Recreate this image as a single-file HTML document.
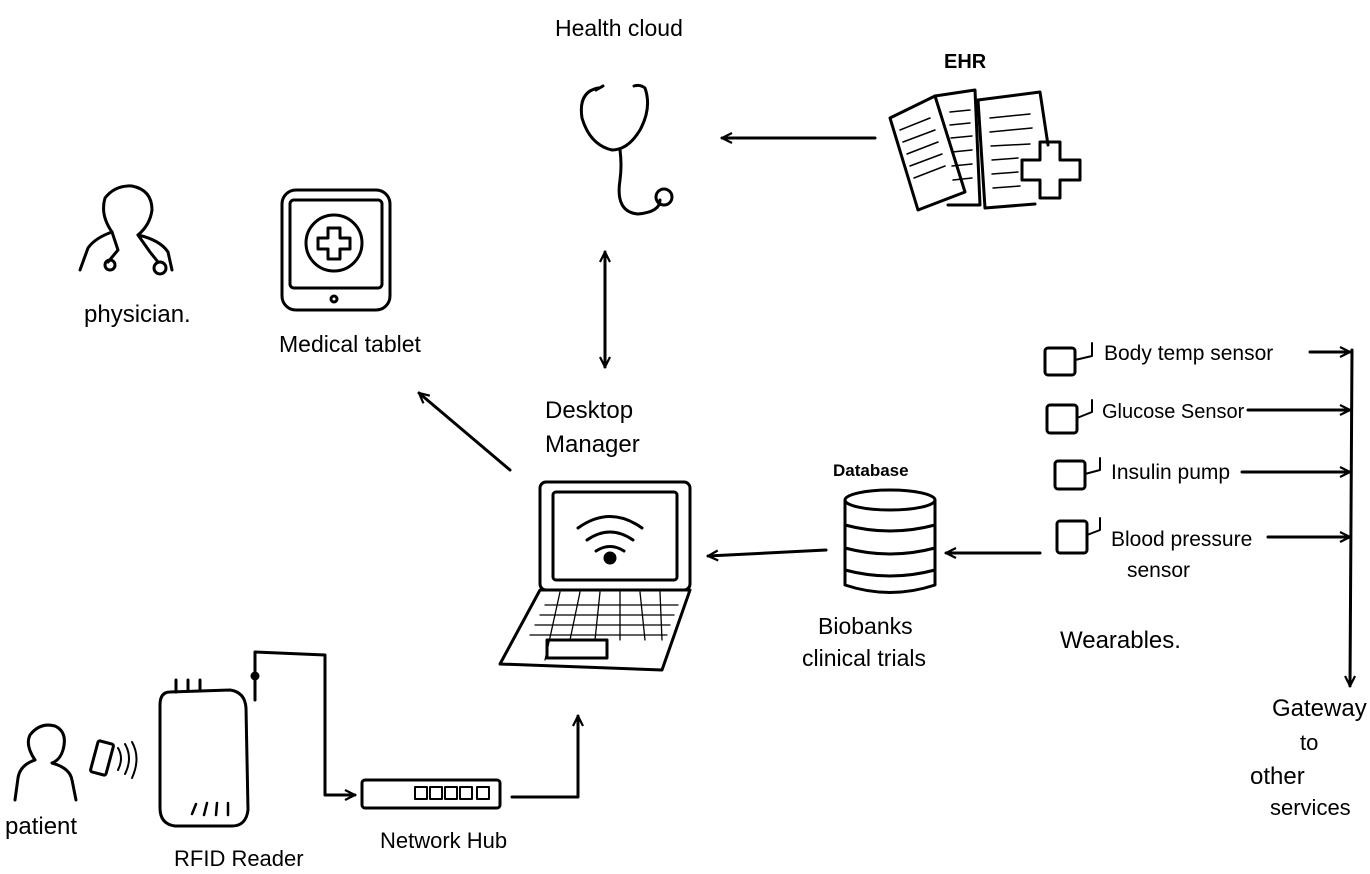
<!DOCTYPE html>
<html><head><meta charset="utf-8"><style>
html,body{margin:0;padding:0;background:#fff;}
svg{display:block}
text{font-family:"Liberation Sans Narrow","Liberation Sans",sans-serif;fill:#000;}
</style></head><body>
<svg width="1370" height="874" viewBox="0 0 1370 874" xmlns="http://www.w3.org/2000/svg">
<defs>
<marker id="ah" viewBox="0 0 12 12" refX="11" refY="6" markerWidth="12" markerHeight="12" markerUnits="userSpaceOnUse" orient="auto-start-reverse">
<path d="M1,1 L11,6 L1,11" fill="none" stroke="#000" stroke-width="2.2"/>
</marker>
</defs>
<g fill="none" stroke="#000" stroke-width="3" stroke-linecap="round" stroke-linejoin="round">
<path d="M598,88 Q578,92 582,118 Q590,145 612,150 Q628,150 640,130 Q652,108 645,88 Q640,84 634,86"/>
<path d="M603,86 L596,90"/>
<path d="M620,150 Q622,165 620,180 Q615,212 638,214 Q660,212 660,200"/>
<circle cx="664" cy="197" r="8"/>
<path d="M890,118 L935,96 L965,192 L918,210 Z"/>
<path d="M935,96 L975,90 L980,205 L948,205"/>
<path d="M978,100 L1040,92 L1048,145"/>
<path d="M978,100 L985,208 L1035,204"/>
<path d="M1040,142 L1060,142 L1060,160 L1080,160 L1080,180 L1060,180 L1060,198 L1040,198 L1040,180 L1022,180 L1022,160 L1040,160 Z"/>
<g stroke-width="1.5">
<path d="M900,130 L930,118 M903,142 L935,130 M907,154 L938,142 M910,166 L942,154 M914,178 L945,166"/>
<path d="M950,112 L970,110 M950,125 L970,123 M951,138 L972,136 M952,152 L972,150 M952,166 L972,164 M953,180 L972,178"/>
<path d="M990,118 L1030,114 M990,132 L1032,128 M991,146 L1030,144 M992,160 L1018,158 M992,174 L1018,172 M993,188 L1020,186"/>
</g>
<path d="M875,138 L722,138" marker-end="url(#ah)"/>
<path d="M605,252 L605,367" marker-start="url(#ah)" marker-end="url(#ah)"/>
<path d="M510,470 L419,393" marker-end="url(#ah)"/>
<path d="M826,550 L708,556" marker-end="url(#ah)"/>
<path d="M1040,553 L946,553" marker-end="url(#ah)"/>
<path d="M112,232 Q100,215 105,198 Q115,185 132,186 Q152,190 152,210 Q150,225 138,235"/>
<path d="M112,232 Q95,238 88,248 L80,270 M138,235 Q160,240 168,252 L172,270"/>
<path d="M112,232 L118,250 L108,262 M138,235 L150,252 L158,262"/>
<circle cx="110" cy="265" r="5"/><circle cx="160" cy="268" r="6"/>
<rect x="282" y="190" width="108" height="120" rx="14"/>
<rect x="290" y="200" width="92" height="88" rx="4"/>
<circle cx="334" cy="243" r="28"/>
<path d="M328,228 L340,228 L340,238 L350,238 L350,249 L340,249 L340,259 L328,259 L328,249 L318,249 L318,238 L328,238 Z"/>
<circle cx="334" cy="299" r="3"/>
<rect x="540" y="482" width="150" height="108" rx="6"/>
<rect x="553" y="492" width="124" height="88" rx="3"/>
<path d="M540,590 L690,590 L662,670 L500,664 Z"/>
<rect x="547" y="640" width="60" height="18"/>
<g stroke-width="1.3"><path d="M545,605 L678,605 M540,615 L674,615 M535,625 L670,625 M530,635 L667,635"/>
<path d="M560,592 L545,660 M580,592 L570,640 M600,592 L595,640 M620,592 L620,640 M640,592 L645,640 M660,592 L662,640"/></g>
<path d="M578,528 Q610,505 642,528 M587,540 Q610,524 633,540 M596,551 Q610,542 624,551"/>
<circle cx="610" cy="558" r="5" fill="#000"/>
<ellipse cx="890" cy="500" rx="45" ry="10"/>
<path d="M845,500 L845,585 Q890,600 935,585 L935,500"/>
<path d="M845,525 Q890,537 935,525 M845,548 Q890,560 935,548 M845,570 Q890,582 935,570"/>
<rect x="1045" y="348" width="30" height="27" rx="3"/>
<rect x="1047" y="405" width="30" height="28" rx="3"/>
<rect x="1055" y="461" width="30" height="28" rx="3"/>
<rect x="1057" y="521" width="30" height="32" rx="3"/>
<g stroke-width="2"><path d="M1075,360 L1092,356 L1092,343 M1077,418 L1092,412 L1092,400 M1085,474 L1100,470 L1100,458 M1087,535 L1100,530 L1100,518"/></g>
<path d="M1310,352 L1350,352" marker-end="url(#ah)"/>
<path d="M1248,410 L1350,410" marker-end="url(#ah)"/>
<path d="M1242,472 L1350,472" marker-end="url(#ah)"/>
<path d="M1268,537 L1350,537" marker-end="url(#ah)"/>
<path d="M1352,350 L1350,686" marker-end="url(#ah)"/>
<path d="M35,760 Q25,745 30,735 Q40,722 55,726 Q68,732 63,750 Q60,760 52,763"/>
<path d="M35,760 Q20,765 18,778 L15,800 M52,763 Q70,768 72,780 L76,800"/>
<rect x="94" y="742" width="16" height="32" rx="2" transform="rotate(15 102 758)"/>
<g stroke-width="2"><path d="M118,748 Q124,758 118,770 M125,744 Q133,758 125,774 M132,742 Q141,758 132,778"/></g>
<path d="M170,692 L230,690 Q245,692 246,708 L248,810 Q246,826 232,826 L175,826 Q160,824 160,808 L160,705 Q160,692 170,692 Z"/>
<path d="M176,692 L176,680 M188,691 L188,680 M200,691 L200,680"/>
<g stroke-width="2.5"><path d="M192,814 L196,804 M204,815 L207,803 M216,815 L217,803 M228,815 L228,803"/></g>
<path d="M255,700 L255,652 L325,655 L325,795 L355,795" marker-end="url(#ah)"/>
<circle cx="255" cy="676" r="3" fill="#000"/>
<rect x="362" y="780" width="138" height="28" rx="3"/>
<g stroke-width="2"><rect x="415" y="787" width="12" height="12"/><rect x="430" y="787" width="12" height="12"/><rect x="445" y="787" width="12" height="12"/><rect x="460" y="787" width="12" height="12"/><rect x="477" y="787" width="12" height="12"/></g>
<path d="M512,797 L578,797 L578,716" marker-end="url(#ah)"/>
</g>
<g font-size="23">
<text x="555" y="36">Health cloud</text>
<text x="944" y="68" font-size="20" font-weight="bold">EHR</text>
<text x="84" y="322" font-size="24">physician.</text>
<text x="279" y="352" font-size="23">Medical tablet</text>
<text x="545" y="418" font-size="24">Desktop</text>
<text x="545" y="452" font-size="24">Manager</text>
<text x="833" y="476" font-size="17" font-weight="bold">Database</text>
<text x="818" y="634">Biobanks</text>
<text x="802" y="666">clinical trials</text>
<text x="1104" y="360" font-size="21">Body temp sensor</text>
<text x="1102" y="418" font-size="20">Glucose Sensor</text>
<text x="1111" y="479" font-size="21">Insulin pump</text>
<text x="1111" y="546" font-size="21">Blood pressure</text>
<text x="1127" y="577" font-size="21">sensor</text>
<text x="1060" y="648" font-size="24">Wearables.</text>
<text x="1272" y="716" font-size="24">Gateway</text>
<text x="1300" y="750" font-size="22">to</text>
<text x="1250" y="784" font-size="24">other</text>
<text x="1270" y="815" font-size="22">services</text>
<text x="5" y="834" font-size="24">patient</text>
<text x="174" y="866" font-size="22">RFID Reader</text>
<text x="380" y="848" font-size="22">Network Hub</text>
</g>
</svg>
</body></html>
